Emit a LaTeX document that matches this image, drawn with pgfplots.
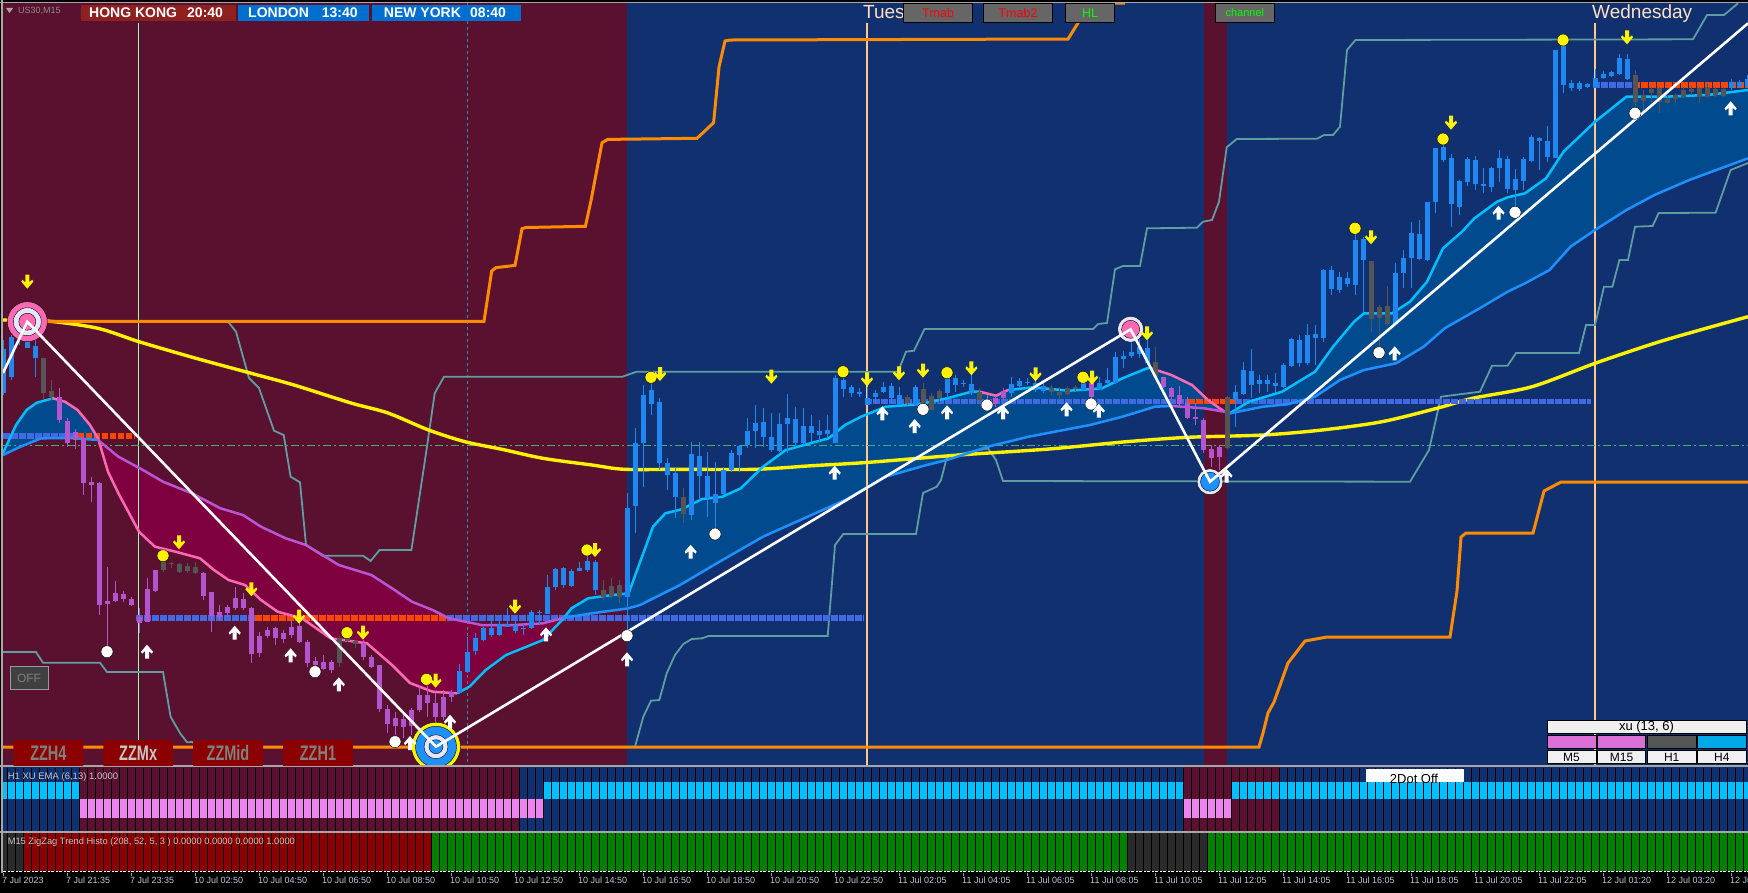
\documentclass[border=0pt]{standalone}
\usepackage{graphicx}
\usepackage{fontspec}
\setmainfont{Liberation Sans}
\usepackage{pgfplots}
\usepackage{pgfplotstable}
\pgfplotsset{compat=1.18}

\definecolor{maroonbg}{HTML}{5A102F}
\definecolor{navybg}{HTML}{10306F}
\definecolor{ribblue}{HTML}{024A8E}
\definecolor{ribred}{HTML}{7F003F}
\definecolor{cblue}{HTML}{1E88F0}
\definecolor{cpurple}{HTML}{B455D0}
\definecolor{cgray}{HTML}{555555}
\definecolor{orangeline}{HTML}{FF8C00}
\definecolor{tealline}{HTML}{5F9EA0}
\definecolor{fastup}{HTML}{00BFFF}
\definecolor{fastdn}{HTML}{FF69B4}
\definecolor{slowup}{HTML}{1E90FF}
\definecolor{slowdn}{HTML}{BA55D3}
\definecolor{lvlblue}{HTML}{4169E1}
\definecolor{lvlred}{HTML}{FF4500}
\definecolor{peach}{HTML}{FFC88F}
\definecolor{paleday}{HTML}{FFE0C0}
\definecolor{ticktxt}{HTML}{B8C8D8}
\definecolor{hist1}{HTML}{00BFFF}
\definecolor{hist2}{HTML}{EE82EE}
\definecolor{zgray}{HTML}{2A2A2A}
\definecolor{zred}{HTML}{8B0000}
\definecolor{zgreen}{HTML}{008000}
\definecolor{hkred}{HTML}{8F2020}
\definecolor{clockblue}{HTML}{0070D0}
\definecolor{xuorchid}{HTML}{DA70D6}
\definecolor{xucyan}{HTML}{00A8E8}
\definecolor{palegreenl}{HTML}{98FBB8}
\definecolor{sessdash}{HTML}{2090B8}
\definecolor{midgreen}{HTML}{3CB371}
\definecolor{lav}{HTML}{E6E6FA}

\newcommand\fs[1]{\fontsize{#1}{#1}\selectfont}

% arrows for the signal marks
\pgfdeclareplotmark{dnarrow}{%
  \pgfpathmoveto{\pgfqpoint{-2pt}{7pt}}\pgfpathlineto{\pgfqpoint{2pt}{7pt}}%
  \pgfpathlineto{\pgfqpoint{2pt}{-.5pt}}\pgfpathlineto{\pgfqpoint{5pt}{2pt}}%
  \pgfpathlineto{\pgfqpoint{6pt}{0pt}}\pgfpathlineto{\pgfqpoint{0pt}{-7pt}}%
  \pgfpathlineto{\pgfqpoint{-6pt}{0pt}}\pgfpathlineto{\pgfqpoint{-5pt}{2pt}}%
  \pgfpathlineto{\pgfqpoint{-2pt}{-.5pt}}\pgfpathclose\pgfusepathqfill}
\pgfdeclareplotmark{uparrow}{%
  \pgfpathmoveto{\pgfqpoint{-2pt}{-7pt}}\pgfpathlineto{\pgfqpoint{2pt}{-7pt}}%
  \pgfpathlineto{\pgfqpoint{2pt}{.5pt}}\pgfpathlineto{\pgfqpoint{5pt}{-2pt}}%
  \pgfpathlineto{\pgfqpoint{6pt}{0pt}}\pgfpathlineto{\pgfqpoint{0pt}{7pt}}%
  \pgfpathlineto{\pgfqpoint{-6pt}{0pt}}\pgfpathlineto{\pgfqpoint{-5pt}{-2pt}}%
  \pgfpathlineto{\pgfqpoint{-2pt}{.5pt}}\pgfpathclose\pgfusepathqfill}

% candles: bar number, body top, body bottom, high, low (y counted from the top)
\pgfplotstableread{
i top bot hi lo
0 349 393 340 395
1 337.3 376.7 335 380
2 326.7 337.3 320 345
3 325 347.7 320 348
4 346 357.7 337 376.7
57 671 693.3 664 694
58 651.7 671.7 636.7 673
59 638.3 651 633 655
60 628.3 640 627 641
61 628.3 635 615 637
62 624 635 620 636
63 624 626.7 608 627
64 625 631 618 633
65 628.3 629.3 623 635
66 612.3 628.3 610 629
67 612.3 613.3 610 625
68 587.3 614 575 614
69 569.3 586.7 568 590
70 568.3 584.7 567 588
71 570.7 585.7 569 587
72 568.3 570.7 562 571
73 560.7 570 550 572
74 562.3 590 560 595
78 508.3 596.7 493 633
79 443 505.7 428 533
80 395 443.3 385 486.7
81 390 404 377 415
82 401.7 463.3 398 470
83 463.3 475 458 490
84 472.7 496.7 468 518
86 454 515 441.7 520
87 455.7 476 441.7 500
88 476 498.3 451.7 516.7
89 494.3 503.3 461.7 533
90 470 494.3 466.7 495
91 452.7 470 450 471.7
92 445.7 455 445 471.7
93 430.7 445 418 448
94 423.3 430.7 405 448
95 421.7 436.7 408 446.7
96 436.7 450 413 451.7
97 424 450.7 413 451.7
98 417.7 424 394 453
99 419 443.3 406.7 446.7
100 425.7 443.3 408 445
101 426 432.7 415 441.7
102 431 435 420 441.7
103 430 434.3 415 436.7
104 378.3 443.3 375 443.3
105 380 389.3 377 396.7
106 387.3 393.3 385 396.7
107 392.3 394 388 396.7
108 397.7 405 386.7 405
109 392.7 396.7 390 401.7
110 387.3 392 381.7 393
111 386 398.3 383 404
112 395 405 387 405
114 386.7 405 385 406
118 378.3 393.3 373 398
119 378.3 385 375 391.7
120 382.5 383.5 380 387
121 384 393.3 373 395
126 384 392.7 377 396.7
127 381 386 378 388
128 381.5 382.7 377.7 385
129 383 390 380 391.7
130 386 391 383 392.7
135 381.7 390 375 390.7
137 382.7 389.3 377 390
138 380 383.3 368 385
139 357.3 383.3 351.7 384
140 356 359 351 368
141 352 356 340 358
142 347.3 354.3 335 358
143 348.3 363.3 340 365
154 391.7 400 385 426.7
155 370 394 361.7 395
156 371 385 349 398
157 380 384 375 393
158 380 384.3 375 391.7
159 383.3 386 372.7 393
160 365 386.7 363 388
161 339.3 365.7 337.7 366.7
162 340 363.3 335 366.7
163 335 363.3 324 365
164 334 338 325 365
165 270 338 269 341.7
166 270 288.7 266 295
167 277.3 290 271.7 292.7
168 278.3 284 272 286.7
169 240 285 230 295
170 239 260 237 311.7
174 273.3 324 263.3 325
175 258.3 272.7 250 288
176 233.3 257.7 222.3 288.3
177 234 259.3 220 260
178 202.3 260 202 260.7
179 148.3 201.7 148 213
180 146.7 160 138 162.3
181 158.3 204 154 226.7
182 181 206.7 180 215
183 159.3 181.7 157 185.7
184 160 184 156 190
185 184 185.7 168 192.7
186 168 186.7 166.7 191.7
187 158.3 167.7 150 181.7
188 159 189 156 192.7
189 179 190 169.3 212
190 159 181 156.7 190
191 136.7 161 135 161.7
192 138.3 140.7 136.7 170
193 141 156.7 126 162.3
194 50 158.3 50 158.3
195 41.7 85 40 92.7
196 83.3 87.7 80 90.7
197 82.7 89 81 90.7
198 84.3 86.7 82.7 87.7
199 78.3 86.7 69 87.3
200 74 78.3 70.7 79
201 71.7 76 71 76.7
202 58.3 74 54 75
203 59 79 54 80
216 81.7 88.3 79 90
217 82.3 87.3 80 88.3
218 79.3 86.7 75 87.3
}\candleblue

\pgfplotstableread{
i top bot hi lo
7 397.3 420 388 423
8 421 442.7 418 447
9 431.7 440 429 449
10 438 483 436 495
11 482.3 485 477 502
12 482.7 605 482 615
13 600.7 603.7 566.7 648
14 593 600.7 581 601.7
15 594 598.7 590.7 601.7
16 599 605 596.7 606
17 616.7 622.7 608 633
18 589.3 621.7 578 622
19 570 590.7 570 592
25 573.3 595.7 572 600
26 592.3 616 592 631.7
27 611.7 616.7 605 620
28 607.3 612.7 605 617
29 598.3 608.3 587 610
30 599.3 607.7 593 610
31 608.3 654 607 663
32 636 653.3 632 657
33 630 636 627 638
34 628.3 638.3 626.7 645
35 633 639 630 643
36 627 635 620 638
37 626 642.3 618 643
38 641.7 663.3 640 667
39 661 665 656.7 668
40 662.3 669 655 670
41 662.3 670 660 673
45 643.3 657.3 640 660
46 657.3 666.7 655 668
47 665 709.3 665 712
48 709.3 724 705 733
49 717.7 726 712 735
50 719 726.7 715 738
51 710 726 708 735
52 695 710 685 712
53 695 703.3 680 716.7
54 702.7 717.3 693 750
55 697.3 716.7 690 720
56 692.3 696.7 690 702
123 400 405 395 408
124 398.3 404 396 406.7
125 391 397.7 388 400
136 383.3 396.7 377 405
145 377.3 387.3 376.7 388
146 387.7 396.7 387 400
147 395 404 386 406.7
148 403.3 418.3 396.7 418.5
149 417 419 403 425
150 420 450 418 453
151 449 457.7 445 466.7
152 447.3 456.7 445 470
}\candlepurple

\pgfplotstableread{
i top bot hi lo
5 358 392.7 358 400
6 391 397.3 380 400
20 562.3 570 555 572
21 563.3 564.3 562 568
22 564.3 571.7 563 573
23 566 571 563 572.7
24 567 572.7 562 574
42 638.3 663.3 636 667
43 636.7 640.7 630 642
44 641 644 640 648
75 590 596.7 580 600
76 586 596 578 598
77 585 597.3 580 603
85 496.7 514 488 522.7
113 396.7 403.3 395 405
115 389 408.3 382.7 410
116 396 410 393 410
117 390.7 398.3 389 403
122 391.7 400 388 401.7
131 388 392.3 385 395
132 391.7 395 387 400
133 388.3 393.7 386 395
134 387.3 389.3 385 390.7
144 362.3 377.3 346.7 379
153 396.7 448.3 396 448.5
171 261 319 261 331.7
172 307.3 317.7 305 350
173 306 324 286 326
204 75 101.7 70 113
205 95 100.7 90 110
206 89 93.3 86.7 101.7
207 88.3 101.7 87.3 113
208 99 102.7 95 103
209 95.3 99 93 102.7
210 90 96.7 87 98.3
211 89 92 86 95
212 88.3 97.3 87.3 102.7
213 87.3 96.7 83 98.3
214 89.3 95 87.3 96.7
215 89 96 87.3 96.7
}\candlegray

% fast and slow averages
\pgfplotstableread{
x y
3 453
16 425
26.5 410
36.7 402.7
53 398.3
65 401.7
77.6 410
90 425
98 438.3
108 471.7
118.4 493.3
139 531.7
155 546.7
175.5 551.7
200 558.3
214 570
228.6 580
245 585
261 600
277.6 611.7
302 618.3
330.6 638.3
367 643.3
392 665
410 683
432.6 691.7
457 693.3
469.4 686.7
485.7 670
506 655
526.5 646.7
543 640
563 619
571.4 608.3
588 598.3
612 595
628.6 593.3
640.8 560
653 526.7
665.3 513.3
681.6 509.3
702 499
722.4 496.7
740.8 488.3
763 466.7
785.7 450
804 445
828.6 438.3
845 425
861 416.7
885.7 406.7
918 404.3
947 398.3
971.4 391.7
979.6 391.7
996 395.7
1008 390
1032.6 387.3
1069 390.7
1102 388.3
1122.4 378.3
1147 368.3
1151 368.3
1171.4 375
1192 385
1208 400
1224.5 411.7
1229.7 413.3
1249 401.7
1282 391.7
1315 371.7
1333 346.7
1354 321.7
1364 313.3
1392 313.3
1410 301.7
1427 281.7
1443 248.3
1462 231.7
1474.4 218.3
1497 201.7
1507.6 197.3
1525 193.3
1546 178.3
1563.5 151.7
1595 121.7
1626.4 96.7
1665 96.7
1707 95
1748 90
}\fastma

\pgfplotstableread{
x y
3 455
20.4 446.7
41 438.3
70 438
98 440
118.4 456.7
143 470
163 481.7
192 493.3
220.4 508.3
243 515
261 526.7
285.7 538.3
306 545
338.8 565
371.4 575
392 588.3
412 601.7
432.6 610
449 618.3
481.6 625
514 625
543 623.3
563 618
592 613.3
628.6 608.3
640 605
680 585
722.4 560
763 536.7
845 500
885.7 476.7
926.5 465
947 460
987.8 446.7
1028.6 436.7
1090 425
1122.4 416.7
1155 406.7
1171.4 406
1204 408.3
1224.5 411.7
1230 413.3
1263 406.7
1287.4 404.3
1315 396.7
1340 380
1364 370
1396 363.3
1423.7 346.7
1444.7 328.3
1479.6 308.3
1507.6 291.7
1525 283.3
1549.5 270
1570.5 246.7
1595 230
1626.4 210
1654.4 195
1689.3 180
1748 158.3
}\slowma

\begin{document}
\begin{tikzpicture}
\path[use as bounding box,fill=black] (0,0) rectangle (1748pt,-893pt);
\clip (0,0) rectangle (1748pt,-893pt);

% price panel
\begin{axis}[at={(3pt,-3pt)},anchor=north west,scale only axis,width=1745pt,height=762.5pt,
  xmin=3,xmax=1748,ymin=3,ymax=765.5,y dir=reverse,hide axis]
% sessions
\addplot[fill=maroonbg,draw=none] coordinates {(3,3)(627,3)(627,766)(3,766)} --cycle;
\addplot[fill=navybg,draw=none] coordinates {(627,3)(1203.5,3)(1203.5,766)(627,766)} --cycle;
\addplot[fill=maroonbg,draw=none] coordinates {(1203.5,3)(1227,3)(1227,766)(1203.5,766)} --cycle;
\addplot[fill=navybg,draw=none] coordinates {(1227,3)(1748,3)(1748,766)(1227,766)} --cycle;

% ribbon between the averages
\addplot[fill=ribblue,draw=none] coordinates {
(3,453)(16,425)(26.5,410)(36.7,402.7)(53,398.3)(65,401.7)(77.6,410)(90,425)(98,438.3)
(98,440)(70,438)(41,438.3)(20.4,446.7)(3,455)} --cycle;
\addplot[fill=ribred,draw=none] coordinates {
(98,438.3)(108,471.7)(118.4,493.3)(139,531.7)(155,546.7)(175.5,551.7)(200,558.3)(214,570)(228.6,580)(245,585)
(261,600)(277.6,611.7)(302,618.3)(330.6,638.3)(367,643.3)(392,665)(410,683)(432.6,691.7)(457,693.3)(469.4,686.7)
(485.7,670)(506,655)(526.5,646.7)(543,640)(563,619)
(563,618)(543,623.3)(514,625)(481.6,625)(449,618.3)(432.6,610)(412,601.7)(392,588.3)(371.4,575)(338.8,565)
(306,545)(285.7,538.3)(261,526.7)(243,515)(220.4,508.3)(192,493.3)(163,481.7)(143,470)(118.4,456.7)(98,440)} --cycle;
\addplot[fill=ribblue,draw=none] coordinates {
(563,619)(571.4,608.3)(588,598.3)(612,595)(628.6,593.3)(640.8,560)(653,526.7)(665.3,513.3)(681.6,509.3)(702,499)
(722.4,496.7)(740.8,488.3)(763,466.7)(785.7,450)(804,445)(828.6,438.3)(845,425)(861,416.7)(885.7,406.7)(918,404.3)
(947,398.3)(971.4,391.7)(979.6,391.7)(996,395.7)(1008,390)(1032.6,387.3)(1069,390.7)(1102,388.3)(1122.4,378.3)
(1147,368.3)(1151,368.3)(1171.4,375)(1192,385)(1208,400)(1224.5,411.7)(1229.7,413.3)(1249,401.7)(1282,391.7)
(1315,371.7)(1333,346.7)(1354,321.7)(1364,313.3)(1392,313.3)(1410,301.7)(1427,281.7)(1443,248.3)(1462,231.7)
(1474.4,218.3)(1497,201.7)(1507.6,197.3)(1525,193.3)(1546,178.3)(1563.5,151.7)(1595,121.7)(1626.4,96.7)(1665,96.7)
(1707,95)(1748,90)
(1748,158.3)(1689.3,180)(1654.4,195)(1626.4,210)(1595,230)(1570.5,246.7)(1549.5,270)(1525,283.3)(1507.6,291.7)
(1479.6,308.3)(1444.7,328.3)(1423.7,346.7)(1396,363.3)(1364,370)(1340,380)(1315,396.7)(1287.4,404.3)(1263,406.7)
(1230,413.3)(1224.5,411.7)(1204,408.3)(1171.4,406)(1155,406.7)(1122.4,416.7)(1090,425)(1028.6,436.7)(987.8,446.7)
(947,460)(926.5,465)(885.7,476.7)(845,500)(763,536.7)(722.4,560)(680,585)(640,605)(628.6,608.3)(592,613.3)} --cycle;

% day lines
\addplot[palegreenl,line width=1.3pt] coordinates {(138.8,22.7)(138.8,740)};
\addplot[peach,line width=1.3pt] coordinates {(867,22.7)(867,766)};
\addplot[peach,line width=1.3pt] coordinates {(1595,22.7)(1595,766)};
\addplot[sessdash,line width=1pt,dash pattern=on 3pt off 3pt] coordinates {(467.3,3)(467.3,766)};
\addplot[midgreen,line width=.8pt,dash pattern=on 8pt off 3pt on 2pt off 3pt] coordinates {(3,445.3)(1748,445.3)};

% channel
\addplot[tealline,line width=1.8pt] coordinates {
(228.6,322.3)(236,331.7)(249,378)(259,388)(274,430.7)(283.7,435)(290.6,476.7)(300,482.3)(306,545)
(322.4,555.7)(363,555.7)(370.6,561)(379.6,550)(411.4,550)(426.5,450)(434.7,393.3)(444,376.7)
(622.4,376.7)(636.7,371.7)(898,371.7)(906,351.7)(914,350.7)(924.5,329)(1093,329)(1098,324)(1107,323)
(1115,269.3)(1123,266)(1140,266)(1147,228.3)(1197,227.7)(1203,221.7)(1212,220)(1219,201.7)(1226.7,147.3)
(1236.7,139)(1317,138.7)(1324,135)(1333,135)(1340,126.7)(1347,50)(1355.5,40)(1693,39.3)(1707,15)(1724,15)(1738,3.3)};
\addplot[tealline,line width=1.8pt] coordinates {
(3,652)(36,652)(43,662.7)(100,662.7)(107,672)(163,672)(170.6,716.7)(180,733)(187,742.3)(192,742)(200,747)
(635,746.7)(643.3,716.7)(651,700.7)(659.3,700)(666.7,673.3)(675,655)(683.3,644)(691.7,639)(702.3,638.3)
(708.3,636)(827.7,636)(831.7,586.7)(835,545)(843.3,534)(916,534)(923,493)(936.7,486.7)(941,480)(947,456.7)
(988,448.3)(996,460)(1003,481)(1410,481.7)(1429,450)(1441,396.7)(1480,391.7)(1492,365.7)(1507.6,365.7)
(1516,353)(1579,353)(1586,325)(1595,325)(1604,286.7)(1612.4,286.7)(1619.4,260)(1628,260)(1635,226.7)
(1652.6,226)(1658.6,213)(1715.6,212.7)(1730.6,170)(1748,163)};

% long average
\addplot[yellow,line width=3.4pt,smooth,tension=.5] coordinates {
(3,320)(47,321)(98,328.3)(139,341.7)(196,358.3)(249,372.7)(294,385)(351,403)(388,413)(428.6,430)(465,441.7)
(502,449.3)(543,458.3)(592,465)(624.5,469.3)(681.6,469.3)(755,469.3)(812,465.7)(869,462.3)(959,455)(1049,449)
(1126.5,441.7)(1188,437.3)(1263,435)(1322,430)(1382,421.7)(1438,408)(1472.6,398.3)(1532,386.7)(1595,363.3)
(1654.4,343.3)(1700,330)(1748,316.7)};

% orange envelope
\addplot[orangeline,line width=3pt] coordinates {
(30,321.3)(484,321.3)(491.7,271)(496,267.6)(515,265.4)(522,228.6)(526,227.5)(585.4,226.3)(591,200.7)(602,142.7)
(607.7,139.4)(697,138.3)(713.6,122.7)(719,67)(725,41)(730,40)(1068,39)(1078,23)(1082,10)(1090,3)(1125,3)};
\addplot[orangeline,line width=3pt] coordinates {
(3,747)(1259,747)(1263,733)(1268,713)(1274,702)(1288,663)(1305,641)(1327,637)(1450,637)(1457,591)(1461,537)
(1466,533)(1533,533)(1544,491)(1561,482)(1748,482)};

% dotted levels
\pgfplotsset{lvl/.style={line width=5.5pt,dash pattern=on 6.5pt off 1.5pt}}
\addplot[lvlblue,lvl] coordinates {(3,436)(77.5,436)};
\addplot[lvlred,lvl] coordinates {(77.5,436)(134.7,436)};
\addplot[lvlblue,lvl] coordinates {(136,618)(255,618)};
\addplot[lvlred,lvl] coordinates {(255,618)(447,618)};
\addplot[lvlblue,lvl] coordinates {(447,618)(864,618)};
\addplot[lvlblue,lvl] coordinates {(865,401.7)(1188,401.7)};
\addplot[lvlred,lvl] coordinates {(1188,401.7)(1235,401.7)};
\addplot[lvlblue,lvl] coordinates {(1235,401.7)(1591,401.7)};
\addplot[lvlblue,lvl] coordinates {(1593,85)(1633,85)};
\addplot[lvlred,lvl] coordinates {(1633,85)(1748,85)};

% averages, coloured by state
\addplot[fastup,line width=2.5pt,restrict x to domain=3:53] table {\fastma};
\addplot[fastdn,line width=2.5pt,restrict x to domain=53:457] table {\fastma};
\addplot[fastup,line width=2.5pt,restrict x to domain=457:979.6] table {\fastma};
\addplot[fastdn,line width=2.5pt,restrict x to domain=979.6:1008] table {\fastma};
\addplot[fastup,line width=2.5pt,restrict x to domain=1008:1151] table {\fastma};
\addplot[fastdn,line width=2.5pt,restrict x to domain=1151:1224.5] table {\fastma};
\addplot[fastup,line width=2.5pt,restrict x to domain=1224.5:1748] table {\fastma};
\addplot[slowup,line width=2.5pt,restrict x to domain=3:98] table {\slowma};
\addplot[slowdn,line width=2.5pt,restrict x to domain=98:563] table {\slowma};
\addplot[slowup,line width=2.5pt,restrict x to domain=563:1171.4] table {\slowma};
\addplot[slowdn,line width=2.5pt,restrict x to domain=1171.4:1224.5] table {\slowma};
\addplot[slowup,line width=2.5pt,restrict x to domain=1224.5:1748] table {\slowma};

% candles: wick and body as error bars
\pgfplotsset{
  wick/.style={only marks,mark size=0pt,mark options={draw=none,fill=none},error bars/.cd,y dir=both,y explicit,error mark=none,
    error bar style={line width=1pt,color=#1}},
  body/.style={only marks,mark size=0pt,mark options={draw=none,fill=none},error bars/.cd,y dir=plus,y explicit,error mark=none,
    error bar style={line width=5pt,color=#1}}}
\newcommand\candles[2]{%
  \addplot[wick=#2] table[x expr=3.5+8*\thisrow{i},y=top,
    y error plus expr=\thisrow{lo}-\thisrow{top},y error minus expr=\thisrow{top}-\thisrow{hi}] {#1};
  \addplot[body=#2] table[x expr=3.5+8*\thisrow{i},y=top,
    y error plus expr=\thisrow{bot}-\thisrow{top}] {#1};}
\candles{\candleblue}{cblue}
\candles{\candlepurple}{cpurple}
\candles{\candlegray}{cgray}

% pivots
\newcommand\pivot[3]{\addplot[only marks,mark=*,mark size=#2pt,mark options={draw=none,fill=#3}] coordinates {#1};}
\pivot{(27.3,321.7)}{20}{fastdn}
\pivot{(27.3,321.7)}{14}{lav}
\pivot{(27.3,321.7)}{8.5}{fastdn}
\pivot{(436,746.7)}{24.5}{yellow}
\pivot{(436,746.7)}{20.5}{slowup}
\pivot{(436,746.7)}{12}{lav}
\pivot{(436,746.7)}{7}{slowup}
\pivot{(1130.6,329.3)}{13}{lav}
\pivot{(1130.6,329.3)}{9}{fastdn}
\pivot{(1210,481.7)}{13}{lav}
\pivot{(1210,481.7)}{9.5}{slowup}
\end{axis}

% marks go last inside an axis, so the zigzag and the signals get their own
\begin{axis}[at={(3pt,-3pt)},anchor=north west,scale only axis,width=1745pt,height=762.5pt,
  xmin=3,xmax=1748,ymin=3,ymax=765.5,y dir=reverse,hide axis]
\addplot[white,line width=2.6pt,line join=miter] coordinates {
(3,373)(27.3,321.7)(436,746.7)(1130.6,329.3)(1210,481.7)(1748,23.3)};
\addplot[only marks,mark=*,mark size=6pt,mark options={draw=none,fill=yellow}] coordinates {
(163,555.7)(347,632.7)(426.5,679.3)(587,550)(651,377.3)(843,371.7)(947,372.7)(1083,377.3)(1355,228.3)(1443,139)(1563,40)};
\addplot[only marks,mark=dnarrow,mark options={draw=none,fill=yellow}] coordinates {
(27.3,281.7)(179,542.3)(251.4,589.3)(299,616.7)(363,632.7)(435.5,680.7)(515,606.7)(595,550)(660,374)(771.4,376.7)
(867,379.3)(899,373.3)(923,370.7)(971.4,368.3)(1035.5,374.3)(1092,377.7)(1147,333.3)(1371,237.3)(1451,122.7)(1627,37.3)};
\addplot[only marks,mark=*,mark size=6pt,mark options={draw=none,fill=white}] coordinates {
(107,651.7)(315,671.7)(395,741.7)(627,635.7)(715,534)(923,409.3)(987,405)(1091,404)(1379,352.7)(1515,212.3)(1635,113.3)};
\addplot[only marks,mark=uparrow,mark options={draw=none,fill=white}] coordinates {
(147,651.7)(234.7,632.7)(290.6,655.3)(338.8,684.3)(410,743)(450,721.7)(546,634.3)(627,659.3)(690.6,551.7)(834.7,472.7)
(882.4,413.3)(914.7,426)(947,412.3)(1003,412.3)(1066.5,409.3)(1098.8,410.7)(1226.5,475.7)(1394.7,353.3)(1498.5,212.7)(1730.6,108.3)};
\end{axis}

% xu EMA histogram
\begin{axis}[at={(3pt,-767.5pt)},anchor=north west,scale only axis,width=1745pt,height=63pt,
  xmin=3,xmax=1748,ymin=767.5,ymax=830.5,y dir=reverse,
  axis line style={draw=none},ytick=\empty,xtick={7.5,15.5,...,1747.5},xticklabels={},
  tick style={draw=none},xmajorgrids,major grid style={black,line width=1pt},axis on top]
\addplot[fill=navybg,draw=none] coordinates {(3,767)(1748,767)(1748,831)(3,831)} --cycle;
\addplot[fill=maroonbg,draw=none] coordinates {(79.5,767)(519.5,767)(519.5,831)(79.5,831)} --cycle;
\addplot[fill=maroonbg,draw=none] coordinates {(1183.5,767)(1279.5,767)(1279.5,831)(1183.5,831)} --cycle;
\addplot[fill=hist1,draw=none] coordinates {(3,782)(79.5,782)(79.5,799.3)(3,799.3)} --cycle;
\addplot[fill=hist2,draw=none] coordinates {(79.5,799.3)(543.5,799.3)(543.5,818)(79.5,818)} --cycle;
\addplot[fill=hist1,draw=none] coordinates {(543.5,782)(1183.5,782)(1183.5,799.3)(543.5,799.3)} --cycle;
\addplot[fill=hist2,draw=none] coordinates {(1183.5,799.3)(1231.5,799.3)(1231.5,818)(1183.5,818)} --cycle;
\addplot[fill=hist1,draw=none] coordinates {(1231.5,782)(1748,782)(1748,799.3)(1231.5,799.3)} --cycle;
\end{axis}

% zigzag trend histogram with the time axis
\begin{axis}[at={(3pt,-833pt)},anchor=north west,scale only axis,width=1745pt,height=39.5pt,
  xmin=3,xmax=1748,ymin=833,ymax=872.5,y dir=reverse,
  axis line style={draw=none},ytick=\empty,xtick pos=bottom,tick align=outside,
  xtick={3,67,...,1731},minor xtick={7.5,15.5,...,1747.5},xminorgrids,
  minor grid style={black,line width=1pt},minor tick length=0pt,
  major tick length=3pt,major tick style={color=gray!80},
  xticklabels={7 Jul 2023,7 Jul 21:35,7 Jul 23:35,10 Jul 02:50,10 Jul 04:50,10 Jul 06:50,10 Jul 08:50,10 Jul 10:50,
    10 Jul 12:50,10 Jul 14:50,10 Jul 16:50,10 Jul 18:50,10 Jul 20:50,10 Jul 22:50,11 Jul 02:05,11 Jul 04:05,11 Jul 06:05,
    11 Jul 08:05,11 Jul 10:05,11 Jul 12:05,11 Jul 14:05,11 Jul 16:05,11 Jul 18:05,11 Jul 20:05,11 Jul 22:05,12 Jul 01:20,
    12 Jul 03:20,12 Jul 05:20},
  xticklabel style={anchor=north west,inner sep=0pt,xshift=-1pt,yshift=-1pt,text=ticktxt,font=\fs{9}},axis on top]
\addplot[fill=zgray,draw=none] coordinates {(3,833)(23.5,833)(23.5,871)(3,871)} --cycle;
\addplot[fill=zred,draw=none] coordinates {(23.5,833)(431.5,833)(431.5,871)(23.5,871)} --cycle;
\addplot[fill=zgreen,draw=none] coordinates {(431.5,833)(1127.5,833)(1127.5,871)(431.5,871)} --cycle;
\addplot[fill=zgray,draw=none] coordinates {(1127.5,833)(1207.5,833)(1207.5,871)(1127.5,871)} --cycle;
\addplot[fill=zgreen,draw=none] coordinates {(1207.5,833)(1748,833)(1748,871)(1207.5,871)} --cycle;
\addplot[white,line width=1pt,dash pattern=on 3pt off 1pt] coordinates {(3,871.7)(1748,871.7)};
\end{axis}

% panel separators
\draw[gray!70,line width=1.2pt] (0,-2.5pt) -- (1748pt,-2.5pt);
\draw[gray!70,line width=1.2pt] (2pt,0) -- (2pt,-873pt);
\draw[gray!70,line width=1.2pt] (0,-766pt) -- (1748pt,-766pt);
\draw[gray!70,line width=1.2pt] (0,-832pt) -- (1748pt,-832pt);

% chart furniture
\newcommand\btn[5]{\fill[#5] (#1pt,-#2pt) rectangle (#3pt,-#4pt);}
\newcommand\txt[5]{\node[anchor=#4,inner sep=0pt,text=#5] at (#1pt,-#2pt) {#3};}

\txt{863}{12.5}{\fs{19}Tues}{west}{paleday}
\txt{1592}{14}{\fs{19}Wednesday}{west}{paleday}

\fill[gray!70] (6pt,-8pt) -- (13pt,-8pt) -- (9.5pt,-13pt) -- cycle;
\txt{18}{10.7}{\fs{9}US30,M15}{west}{gray!90}

\btn{80.8}{5}{236}{21}{hkred}
\btn{238}{5}{369.4}{21}{clockblue}
\btn{372}{5}{521}{21}{clockblue}
\txt{89}{13}{\fs{14}\bfseries HONG KONG}{west}{white}
\txt{187}{13}{\fs{14}\bfseries 20:40}{west}{white}
\txt{248}{13}{\fs{14}\bfseries LONDON}{west}{white}
\txt{321.6}{13}{\fs{14}\bfseries 13:40}{west}{white}
\txt{383.7}{13}{\fs{14}\bfseries NEW YORK}{west}{white}
\txt{470}{13}{\fs{14}\bfseries 08:40}{west}{white}

\newcommand\gbtn[6]{\fill[black!60!white,draw=black,line width=.8pt] (#1pt,-#2pt) rectangle (#3pt,-#4pt);
  \node[text=#6,inner sep=0pt] at ({(#1+#3)/2*1pt},{-(#2+#4)/2*1pt}) {#5};}
\gbtn{903.3}{3.3}{972.7}{22.7}{\fs{12.5}Tmab}{red}
\gbtn{983.3}{3.3}{1052.7}{22.7}{\fs{12.5}Tmab2}{red}
\gbtn{1065.3}{3.3}{1114.7}{22.7}{\fs{12.5}HL}{green}
\gbtn{1215.3}{3.3}{1274.3}{22.7}{\fs{11}channel}{green}

\newcommand\zz[4]{\fill[zred,rounded corners=3pt] (#1pt,-740pt) rectangle (#2pt,-768pt);
  \node[text=#4,inner sep=0pt] at ({(#1+#2)/2*1pt},-753pt) {\fs{21}\bfseries\scalebox{.69}[1]{#3}};}
\begin{scope}
\clip (0,0) rectangle (1748pt,-765pt);
\zz{13.4}{83.4}{ZZH4}{gray}
\zz{103.3}{173}{ZZMx}{gray!45}
\zz{193}{263}{ZZMid}{gray}
\zz{283}{353}{ZZH1}{gray}
\end{scope}

\fill[black!75,draw=gray!80,line width=.8pt] (10pt,-666.7pt) rectangle (48pt,-689.3pt);
\txt{29}{678}{\fs{12}OFF}{center}{gray}

% xu table
\newcommand\cell[5]{\fill[#5,draw=black,line width=.6pt] (#1pt,-#2pt) rectangle (#3pt,-#4pt);}
\cell{1547}{720.7}{1746}{733.3}{gray!12}
\txt{1646.5}{727.3}{\fs{13}xu (13, 6)}{center}{black}
\cell{1547}{735.7}{1595.8}{748.7}{xuorchid}
\cell{1597.7}{735.7}{1645.5}{748.7}{xuorchid}
\cell{1647.4}{735.7}{1696}{748.7}{cgray}
\cell{1697.6}{735.7}{1746}{748.7}{xucyan}
\cell{1547}{750.3}{1595.8}{763.3}{gray!12}
\cell{1597.7}{750.3}{1645.5}{763.3}{gray!12}
\cell{1647.4}{750.3}{1696}{763.3}{gray!12}
\cell{1697.6}{750.3}{1746}{763.3}{gray!12}
\txt{1571.4}{757}{\fs{12}M5}{center}{black}
\txt{1621.6}{757}{\fs{12}M15}{center}{black}
\txt{1671.7}{757}{\fs{12}H1}{center}{black}
\txt{1721.8}{757}{\fs{12}H4}{center}{black}

% panel captions
\txt{7.6}{776.7}{\fs{9.5}H1 XU EMA (6,13) 1.0000}{west}{gray!45}
\txt{7.6}{842.3}{\fs{9.3}M15 ZigZag Trend Histo (208, 52, 5, 3 ) 0.0000 0.0000 0.0000 1.0000}{west}{gray!45}

\begin{scope}
\clip (1366pt,-769pt) rectangle (1464pt,-782pt);
\fill[white] (1366pt,-769pt) rectangle (1464pt,-782pt);
\txt{1414}{779}{\fs{13}2Dot Off}{center}{black}
\end{scope}
\end{tikzpicture}
\end{document}
